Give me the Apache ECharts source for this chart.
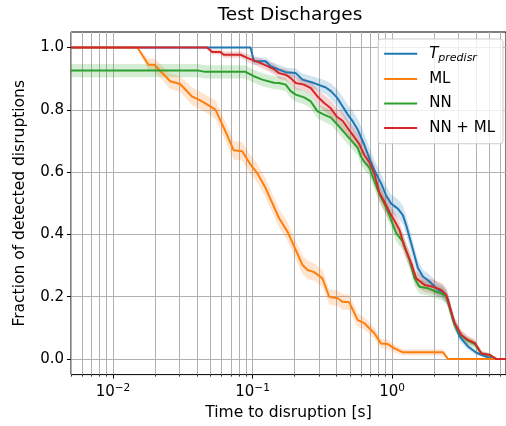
<!DOCTYPE html>
<html>
<head>
<meta charset="utf-8">
<script src="https://cdn.jsdelivr.net/npm/echarts@6/dist/echarts.min.js"></script>
<style>
  html, body { margin: 0; padding: 0; background: #ffffff; }
  #chart { width: 506px; height: 426px; }
</style>
</head>
<body>
<div id="chart"></div>
<script>
// Detection curves: fraction of disruptions detected vs. time before disruption.
const tpTime = [0.005, 0.0967, 0.1022, 0.124, 0.1348, 0.1546, 0.1727, 0.2039, 0.2278, 0.2761,
  0.3351, 0.364, 0.402, 0.4366, 0.4826, 0.524, 0.569, 0.632, 0.687, 0.746,
  0.834, 0.905, 0.984, 1.099, 1.194, 1.261, 1.370, 1.531, 1.663, 1.855,
  2.132, 2.316, 2.516, 2.734, 3.050, 3.505, 4.021, 4.746, 5.445, 6.55];
const tpFrac = [1, 1, 0.956, 0.956, 0.940, 0.929, 0.921, 0.918, 0.897, 0.886,
  0.872, 0.860, 0.840, 0.815, 0.784, 0.762, 0.735, 0.688, 0.644, 0.606,
  0.564, 0.526, 0.499, 0.483, 0.462, 0.430, 0.372, 0.292, 0.265, 0.249,
  0.222, 0.216, 0.190, 0.125, 0.072, 0.040, 0.020, 0.007, 0, 0];
const tpErr = [0, 0, 0.012, 0.012, 0.015, 0.015, 0.015, 0.015, 0.02, 0.02,
  0.022, 0.025, 0.028, 0.03, 0.032, 0.034, 0.035, 0.035, 0.035, 0.033,
  0.03, 0.03, 0.03, 0.03, 0.03, 0.03, 0.028, 0.025, 0.022, 0.022,
  0.022, 0.022, 0.02, 0.017, 0.013, 0.01, 0.007, 0.004, 0, 0];

const mlTime = [0.005, 0.01496, 0.01795, 0.0198, 0.0257, 0.0303, 0.0368, 0.0411, 0.0446, 0.0542,
  0.0622, 0.0733, 0.0843, 0.0968, 0.108, 0.124, 0.155, 0.178, 0.204, 0.228,
  0.248, 0.276, 0.317, 0.354, 0.407, 0.441, 0.493, 0.567, 0.632, 0.746,
  0.834, 0.931, 1.039, 1.194, 2.32, 2.52, 6.55];
const mlFrac = [1, 1, 0.945, 0.945, 0.892, 0.883, 0.843, 0.833, 0.824, 0.801,
  0.743, 0.670, 0.667, 0.624, 0.597, 0.549, 0.452, 0.409, 0.350, 0.302,
  0.286, 0.279, 0.259, 0.200, 0.195, 0.184, 0.182, 0.125, 0.115, 0.083,
  0.050, 0.048, 0.034, 0.0215, 0.0215, 0, 0];
const mlErr = [0, 0, 0.02, 0.02, 0.025, 0.025, 0.028, 0.028, 0.028, 0.03,
  0.03, 0.03, 0.03, 0.03, 0.03, 0.03, 0.03, 0.03, 0.03, 0.03,
  0.03, 0.028, 0.028, 0.025, 0.025, 0.025, 0.025, 0.022, 0.02, 0.018,
  0.015, 0.015, 0.013, 0.01, 0.01, 0, 0];

const nnTime = [0.005, 0.0411, 0.0459, 0.0890, 0.1022, 0.1174, 0.1423, 0.1546, 0.1727, 0.1877,
  0.2039, 0.2339, 0.2615, 0.2921, 0.3259, 0.364, 0.4068, 0.4536, 0.507, 0.5665,
  0.5984, 0.632, 0.6866, 0.746, 0.810, 0.880, 0.956, 1.069, 1.194, 1.332,
  1.447, 1.572, 1.806, 2.073, 2.252, 2.446, 2.807, 3.136, 3.505, 3.909,
  4.368, 5.012, 5.6, 6.55];
const nnFrac = [0.926, 0.926, 0.922, 0.922, 0.908, 0.897, 0.887, 0.886, 0.881, 0.860,
  0.849, 0.840, 0.827, 0.795, 0.785, 0.775, 0.752, 0.728, 0.703, 0.679,
  0.650, 0.633, 0.615, 0.570, 0.530, 0.498, 0.462, 0.404, 0.377, 0.318,
  0.259, 0.232, 0.227, 0.216, 0.211, 0.200, 0.110, 0.075, 0.058, 0.048,
  0.018, 0.012, 0, 0];
const nnErr = [0.021, 0.021, 0.021, 0.021, 0.021, 0.021, 0.021, 0.021, 0.021, 0.022,
  0.022, 0.022, 0.022, 0.023, 0.023, 0.024, 0.025, 0.025, 0.025, 0.026,
  0.026, 0.026, 0.026, 0.026, 0.026, 0.026, 0.026, 0.026, 0.026, 0.025,
  0.024, 0.023, 0.023, 0.022, 0.022, 0.022, 0.018, 0.015, 0.013, 0.012,
  0.008, 0.006, 0, 0];

const nnmlTime = [0.005, 0.0472, 0.0513, 0.0589, 0.0622, 0.0820, 0.0916, 0.1142, 0.1423, 0.1546,
  0.1727, 0.1877, 0.2039, 0.2339, 0.2615, 0.2921, 0.3259, 0.364, 0.402, 0.4418,
  0.493, 0.5355, 0.5817, 0.632, 0.687, 0.746, 0.810, 0.880, 0.956, 1.039,
  1.128, 1.226, 1.370, 1.488, 1.708, 1.963, 2.252, 2.446, 2.807, 3.136,
  3.505, 3.909, 4.368, 5.012, 5.600, 6.55];
const nnmlFrac = [1, 1, 0.986, 0.986, 0.977, 0.977, 0.967, 0.950, 0.931, 0.918,
  0.913, 0.902, 0.886, 0.881, 0.870, 0.843, 0.822, 0.805, 0.778, 0.765,
  0.735, 0.713, 0.690, 0.655, 0.632, 0.595, 0.535, 0.505, 0.472, 0.445,
  0.415, 0.361, 0.308, 0.259, 0.238, 0.232, 0.222, 0.206, 0.115, 0.077,
  0.061, 0.052, 0.018, 0.013, 0, 0];
const nnmlErr = [0, 0, 0.008, 0.008, 0.01, 0.01, 0.012, 0.015, 0.017, 0.018,
  0.018, 0.02, 0.02, 0.02, 0.022, 0.024, 0.025, 0.026, 0.027, 0.028,
  0.028, 0.028, 0.028, 0.028, 0.028, 0.028, 0.028, 0.028, 0.028, 0.028,
  0.027, 0.026, 0.025, 0.024, 0.023, 0.023, 0.023, 0.022, 0.018, 0.015,
  0.013, 0.012, 0.008, 0.006, 0, 0];

const seriesNames = ['Tpredisr', 'ML', 'NN', 'NN + ML'];
const seriesColors = ['#1f77b4', '#ff7f0e', '#2ca02c', '#d62728'];
const bandColors = ['rgba(31,119,180,0.2)', 'rgba(255,127,14,0.2)', 'rgba(44,160,44,0.2)', 'rgba(214,39,40,0.2)'];

const xMajorTicks = [0.01, 0.1, 1];
const xMinorTicks = [0.005, 0.006, 0.007, 0.008, 0.009,
  0.02, 0.03, 0.04, 0.05, 0.06, 0.07, 0.08, 0.09,
  0.2, 0.3, 0.4, 0.5, 0.6, 0.7, 0.8, 0.9,
  2, 3, 4, 5, 6];
const yTicks = [0, 0.2, 0.4, 0.6, 0.8, 1.0];

const FONT = 'DejaVu Sans';
const curves = [
  [tpTime, tpFrac, tpErr],
  [mlTime, mlFrac, mlErr],
  [nnTime, nnFrac, nnErr],
  [nnmlTime, nnmlFrac, nnmlErr]
];

const series = [];
// shaded uncertainty bands: one polygon per curve (upper edge forward, lower edge back)
curves.forEach(([t, f, e], i) => {
  const upper = t.map((x, k) => [x, f[k] + e[k]]);
  const lower = t.map((x, k) => [x, f[k] - e[k]]).reverse();
  const ring = upper.concat(lower);
  series.push({
    type: 'custom', silent: true, z: 1, clip: true,
    data: ring,
    renderItem: (params, api) => {
      if (params.dataIndex !== 0) return null;
      const pts = ring.map(p => api.coord(p));
      return {
        type: 'polygon',
        shape: { points: pts },
        style: { fill: bandColors[i], stroke: null }
      };
    }
  });
});
// the curves themselves
curves.forEach(([t, f], i) => {
  series.push({
    name: seriesNames[i], type: 'line', symbol: 'none', z: 3,
    color: seriesColors[i],
    lineStyle: { color: seriesColors[i], width: 2 },
    data: t.map((x, k) => [x, f[k]])
  });
});

const chart = echarts.init(document.getElementById('chart'), null, { renderer: 'canvas' });
chart.setOption({
  animation: false,
  backgroundColor: '#ffffff',
  title: {
    text: 'Test Discharges', left: 290, top: 6, textAlign: 'center', padding: 0,
    textStyle: { fontFamily: FONT, fontSize: 18.5, fontWeight: 'normal', color: '#000' }
  },
  grid: {
    left: 71, top: 32, width: 435, height: 343,
    show: true, borderColor: '#000', borderWidth: 1, backgroundColor: 'transparent'
  },
  legend: {
    data: seriesNames,
    orient: 'vertical', right: 3, top: 39,
    icon: 'rect', itemWidth: 33, itemHeight: 2.2, itemGap: 7,
    padding: [6, 8, 7, 6],
    backgroundColor: 'rgba(255,255,255,0.8)', borderColor: '#cccccc', borderWidth: 1, borderRadius: 3,
    textStyle: {
      fontFamily: FONT, fontSize: 15, color: '#000', lineHeight: 17.5, padding: [0, 0, 0, 7],
      rich: {
        t: { fontFamily: FONT, fontSize: 15, fontStyle: 'italic', color: '#000', lineHeight: 17.5 },
        s: { fontFamily: FONT, fontSize: 11, fontStyle: 'italic', color: '#000', padding: [8, 0, 0, 0] }
      }
    },
    formatter: name => name === 'Tpredisr' ? '{t|T}{s|predisr}' : name
  },
  xAxis: [{
    type: 'log', logBase: 10, min: 0.005, max: 6.55,
    axisLine: { show: false, onZero: false },
    axisTick: { show: true, length: 2, customValues: xMinorTicks.concat(xMajorTicks),
      lineStyle: { color: '#000', width: 0.8 } },
    axisLabel: { show: false },
    splitLine: { show: true, lineStyle: { color: '#b0b0b0', width: 1 } }
  }, {
    type: 'log', logBase: 10, min: 0.005, max: 6.55, position: 'bottom',
    axisLine: { show: false, onZero: false },
    axisTick: { show: true, length: 4, customValues: xMajorTicks,
      lineStyle: { color: '#000', width: 1 } },
    axisLabel: {
      customValues: xMajorTicks, margin: 8,
      formatter: v => '{b|10}{e|' + String(Math.round(Math.log10(v))).replace('-', '\u2212') + '}',
      rich: {
        b: { fontFamily: FONT, fontSize: 15, color: '#000' },
        e: { fontFamily: FONT, fontSize: 10.5, color: '#000', padding: [0, 0, 9, 0] }
      }
    },
    splitLine: { show: false },
    name: 'Time to disruption [s]', nameLocation: 'middle', nameGap: 30,
    nameTextStyle: { fontFamily: FONT, fontSize: 15.5, color: '#000' }
  }],
  yAxis: {
    type: 'value', min: -0.05, max: 1.05,
    axisLine: { show: false, onZero: false },
    axisTick: { show: true, length: 4, customValues: yTicks, lineStyle: { color: '#000', width: 1 } },
    axisLabel: {
      customValues: yTicks, margin: 7,
      formatter: v => v.toFixed(1),
      fontFamily: FONT, fontSize: 15, color: '#000'
    },
    splitLine: { show: true, lineStyle: { color: '#b0b0b0', width: 1 } },
    name: 'Fraction of detected disruptions', nameLocation: 'middle', nameGap: 43,
    nameTextStyle: { fontFamily: FONT, fontSize: 15.5, color: '#000' }
  },
  series: series
});
</script>
</body>
</html>
